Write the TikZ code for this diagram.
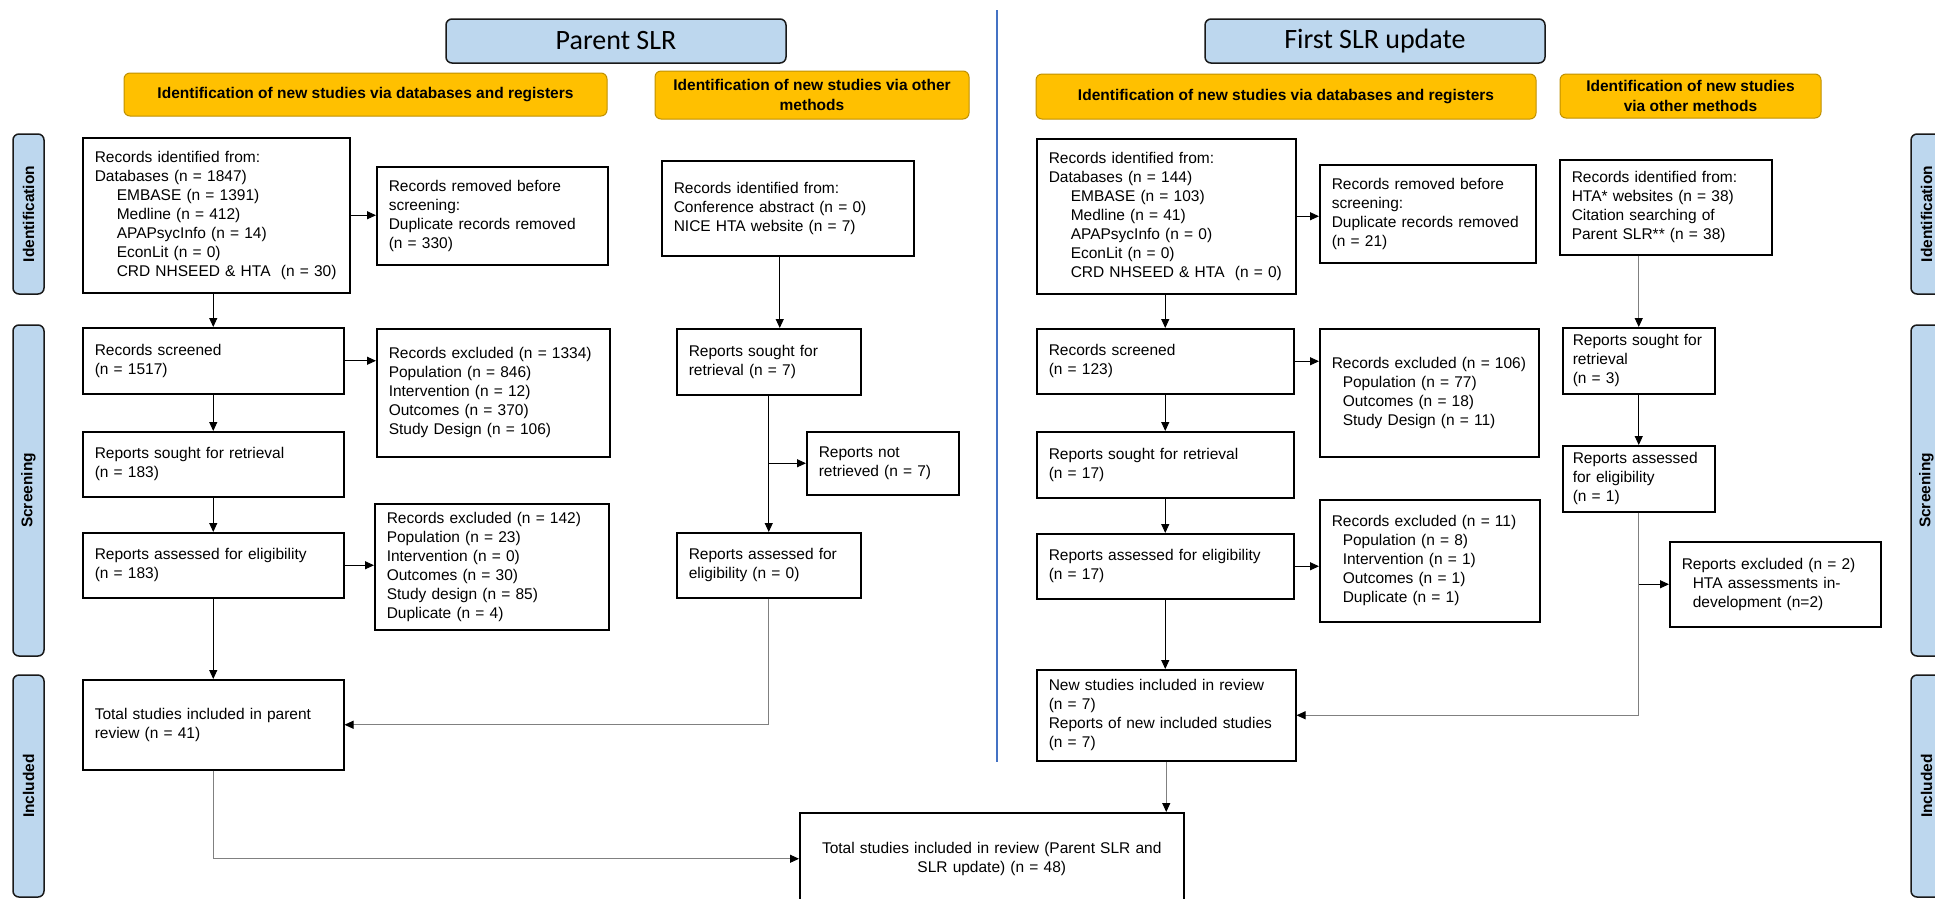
\documentclass[tikz,border=0pt]{standalone}
\usepackage{fontspec}
\setmainfont{Liberation Sans}
\newfontfamily\titlefont{Carlito}
\usetikzlibrary{arrows.meta}

\definecolor{paleblue}{HTML}{BDD7EE}
\definecolor{gold}{HTML}{FFC000}
\definecolor{goldline}{HTML}{BF9000}
\definecolor{splitblue}{HTML}{4472C4}
\definecolor{greyline}{HTML}{808080}

\tikzset{
  box/.style={draw, line width=1.5pt, anchor=north west, align=left,
    inner xsep=12pt, inner ysep=3pt},
  title/.style={draw=black!90, line width=1.5pt, fill=paleblue, rounded corners=6pt,
    minimum width=340pt, minimum height=44pt, font=\titlefont\fontsize{28}{32}\selectfont},
  band/.style={draw=goldline, line width=1pt, fill=gold, rounded corners=6pt, align=center,
    font=\bfseries\fontsize{15.5}{20}\selectfont},
  phase/.style={draw=black!90, line width=1.5pt, fill=paleblue, rounded corners=6pt,
    rotate=90, minimum height=31pt, inner sep=0pt, font=\bfseries\fontsize{15.5}{19}\selectfont},
  arr/.style={line width=1pt, -{Triangle[length=9pt,width=8pt,color=black]}},
  greyarr/.style={arr, draw=greyline},
}

\begin{document}
\begin{tikzpicture}[x=1pt, y=-1pt, font=\fontsize{15.5}{19}\selectfont]
    \useasboundingbox (0,0) rectangle (1935,898);
    \clip (0,0) rectangle (1935,898);

    % Divider between the two reviews
    \draw[splitblue, line width=1.5pt] (997,10) -- (997,762);

    % Phase labels, left and right
    \node[phase, minimum width=160pt] (idl) at (28.5,214) {Identification};
    \node[phase, minimum width=331pt] (scl) at (28.5,490.5) {Screening};
    \node[phase, minimum width=222pt] (inl) at (28.5,786) {Included};
    \node[phase, minimum width=160pt] (idr) at (1926.5,214) {Identification};
    \node[phase, minimum width=331pt] (scr) at (1926.5,490.5) {Screening};
    \node[phase, minimum width=222pt] (inr) at (1926.5,786) {Included};

    % Titles
    \node[title] (ptitle) at (616,41) {Parent SLR};
    \node[title] (utitle) at (1375,41) {First SLR update};

    % Column headers
    \node[band, minimum width=483pt, minimum height=43pt] (pdb) at (365.5,94.5)
        {Identification of new studies via databases and registers};
    \node[band, minimum width=314pt, minimum height=48pt] (poth) at (812,95)
        {Identification of new studies via other\\methods};
    \node[band, minimum width=500pt, minimum height=45pt] (udb) at (1286,96.5)
        {Identification of new studies via databases and registers};
    \node[band, minimum width=261pt, minimum height=44pt] (uoth) at (1690.5,96)
        {Identification of new studies\\via other methods};

    % Parent SLR, databases
    \node[box, text width=243pt, minimum height=155pt] (precid) at (82,137)
        {Records identified from:\\Databases (n = 1847)\\
         \hspace*{22pt}EMBASE (n = 1391)\\\hspace*{22pt}Medline (n = 412)\\
         \hspace*{22pt}APAPsycInfo (n = 14)\\\hspace*{22pt}EconLit (n = 0)\\
         \hspace*{22pt}CRD NHSEED \& HTA\ \ (n = 30)};
    \node[box, text width=207pt, minimum height=98pt] (premoved) at (376,166)
        {Records removed before\\screening:\\Duplicate records removed\\(n = 330)};
    \node[box, text width=237pt, minimum height=66pt] (pscreen) at (82,327)
        {Records screened\\(n = 1517)};
    \node[box, text width=209pt, minimum height=128pt] (pexcl1) at (376,328)
        {Records excluded (n = 1334)\\Population (n = 846)\\Intervention (n = 12)\\
         Outcomes (n = 370)\\Study Design (n = 106)};
    \node[box, text width=237pt, minimum height=65pt] (psought) at (82,431)
        {Reports sought for retrieval\\(n = 183)};
    \node[box, text width=237pt, minimum height=65pt] (passess) at (82,532)
        {Reports assessed for eligibility\\(n = 183)};
    \node[box, text width=210pt, minimum height=126pt] (pexcl2) at (374,503)
        {Records excluded (n = 142)\\Population (n = 23)\\Intervention (n = 0)\\
         Outcomes (n = 30)\\Study design (n = 85)\\Duplicate (n = 4)};
    \node[box, text width=237pt, minimum height=90pt] (ptotal) at (82,679)
        {Total studies included in parent\\review (n = 41)};

    % Parent SLR, other methods
    \node[box, text width=228pt, minimum height=95pt] (pother) at (661,160)
        {Records identified from:\\Conference abstract (n = 0)\\NICE HTA\ website (n = 7)};
    \node[box, text width=160pt, minimum height=66pt] (posought) at (676,328)
        {Reports sought for\\retrieval (n = 7)};
    \node[box, text width=128pt, minimum height=63pt] (pnotret) at (806,431)
        {Reports not\\retrieved (n = 7)};
    \node[box, text width=160pt, minimum height=65pt] (poassess) at (676,532)
        {Reports assessed for\\eligibility (n = 0)};

    % First SLR update, databases
    \node[box, text width=235pt, minimum height=155pt] (urecid) at (1036,138)
        {Records identified from:\\Databases (n = 144)\\
         \hspace*{22pt}EMBASE (n = 103)\\\hspace*{22pt}Medline (n = 41)\\
         \hspace*{22pt}APAPsycInfo (n = 0)\\\hspace*{22pt}EconLit (n = 0)\\
         \hspace*{22pt}CRD NHSEED \& HTA\ \ (n = 0)};
    \node[box, text width=192pt, minimum height=98pt] (uremoved) at (1319,164)
        {Records removed before\\screening:\\Duplicate records removed\\(n = 21)};
    \node[box, text width=233pt, minimum height=65pt] (uscreen) at (1036,328)
        {Records screened\\(n = 123)};
    \node[box, text width=195pt, minimum height=128pt] (uexcl1) at (1319,328)
        {Records excluded (n = 106)\\\hspace*{11pt}Population (n = 77)\\
         \hspace*{11pt}Outcomes (n = 18)\\\hspace*{11pt}Study Design (n = 11)};
    \node[box, text width=233pt, minimum height=66pt] (usought) at (1036,431)
        {Reports sought for retrieval\\(n = 17)};
    \node[box, text width=233pt, minimum height=65pt] (uassess) at (1036,533)
        {Reports assessed for eligibility\\(n = 17)};
    \node[box, text width=196pt, minimum height=122pt] (uexcl2) at (1319,499)
        {Records excluded (n = 11)\\\hspace*{11pt}Population (n = 8)\\
         \hspace*{11pt}Intervention (n = 1)\\\hspace*{11pt}Outcomes (n = 1)\\
         \hspace*{11pt}Duplicate (n = 1)};
    \node[box, text width=235pt, minimum height=91pt] (unew) at (1036,669)
        {New studies included in review\\(n = 7)\\Reports of new included studies\\(n = 7)};

    % First SLR update, other methods
    \node[box, text width=188pt, minimum height=95pt] (uother) at (1559,159)
        {Records identified from:\\HTA* websites (n = 38)\\Citation searching of\\
         Parent SLR** (n = 38)};
    \node[box, text width=132pt, inner xsep=10pt, minimum height=66pt] (uosought) at (1562,327)
        {Reports sought for\\retrieval\\(n = 3)};
    \node[box, text width=132pt, inner xsep=10pt, minimum height=66pt] (uoassess) at (1562,445)
        {Reports assessed\\for eligibility\\(n = 1)};
    \node[box, text width=187pt, minimum height=85pt] (uoexcl) at (1669,541)
        {Reports excluded (n = 2)\\\hspace*{11pt}HTA\ assessments in-\\
         \hspace*{11pt}development (n=2)};

    % Both reviews together
    \node[box, text width=360pt, minimum height=92pt, align=center] (final) at (799,812)
        {Total studies included in review (Parent SLR and\\SLR update) (n = 48)};

    % Parent SLR connectors
    \draw[arr] (precid.south -| pscreen.north) -- (pscreen.north);
    \draw[arr] (precid.east) -- (precid.east -| premoved.west);
    \draw[arr] (pscreen.east) -- (pscreen.east -| pexcl1.west);
    \draw[arr] (pscreen.south) -- (psought.north);
    \draw[arr] (psought.south) -- (passess.north);
    \draw[arr] (passess.east) -- (passess.east -| pexcl2.west);
    \draw[arr] (passess.south) -- (ptotal.north);
    \draw[arr] ([xshift=-8pt]pother.south) -- ([xshift=-8pt]pother.south |- posought.north);
    \draw[arr] (posought.south) -- (poassess.north);
    \draw[arr] (posought.south |- pnotret.west) -- (pnotret.west);
    \draw[greyarr] (poassess.south) |- (ptotal.east);
    \draw[greyarr] (ptotal.south) |- (final.west);

    % First SLR update connectors
    \draw[arr] (urecid.south -| uscreen.north) -- (uscreen.north);
    \draw[arr] (urecid.east) -- (urecid.east -| uremoved.west);
    \draw[arr] (uscreen.east) -- (uscreen.east -| uexcl1.west);
    \draw[arr] (uscreen.south) -- (usought.north);
    \draw[arr] (usought.south) -- (uassess.north);
    \draw[arr] (uassess.east) -- (uassess.east -| uexcl2.west);
    \draw[arr] (uassess.south) -- (uassess.south |- unew.north);
    \draw[greyarr] (uother.south -| uosought.north) -- (uosought.north);
    \draw[arr] (uosought.south) -- (uoassess.north);
    \draw[arr] (uoassess.south |- uoexcl.west) -- (uoexcl.west);
    \draw[greyarr] (uoassess.south) |- (unew.east);
    \draw[greyarr] (unew.south) -- (unew.south |- final.north);
\end{tikzpicture}
\end{document}
